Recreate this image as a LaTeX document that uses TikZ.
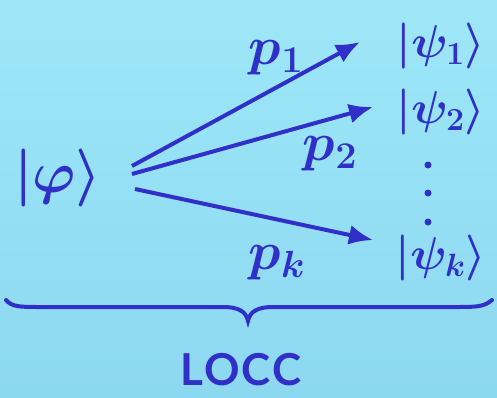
\documentclass[tikz,border=0pt]{standalone}
\usepackage{fix-cm}
\usepackage{fontspec}
\setsansfont{Lato}
\usetikzlibrary{arrows.meta}
\definecolor{bgtop}{HTML}{9DE7F8}
\definecolor{bgbot}{HTML}{8DD8F1}
\definecolor{ink}{HTML}{3030C8}
\begin{document}
\begin{tikzpicture}[x=1pt,y=-1pt,
  lbl/.style={text=ink, inner sep=0pt, font=\fontsize{58}{66}\selectfont\boldmath},
  slbl/.style={text=ink, inner sep=0pt, font=\fontsize{46}{54}\selectfont\boldmath},
  plbl/.style={text=ink, inner sep=0pt, font=\fontsize{54}{60}\selectfont\boldmath},
  arr/.style={draw=ink, line width=4pt, -{Latex[length=24pt,width=20pt]}},
  dot/.style={circle, fill=ink, inner sep=0pt, minimum size=7pt}]
\shade[top color=bgtop, bottom color=bgbot] (0,0) rectangle (497,398);
\useasboundingbox (0,0) rectangle (497,398);
\node[lbl] (phi) at (58,178) {$|\varphi\rangle$};
\node[slbl] (psi1) at (441,46) {$|\psi_1\rangle$};
\node[slbl] (psi2) at (441,112) {$|\psi_2\rangle$};
\node[slbl] (psik) at (441,258) {$|\psi_k\rangle$};
\node[plbl] (p1) at (276,58) {$p_1$};
\node[plbl] (p2) at (330,154) {$p_2$};
\node[plbl] (pk) at (277,263) {$p_k$};
\node[dot] (d1) at (428,165) {};
\node[dot] (d2) at (428,193) {};
\node[dot] (d3) at (428,222) {};
\coordinate (s1) at (132,166);
\coordinate (s2) at (132,174);
\coordinate (sk) at (135,189);
\coordinate (t1) at (360,42);
\coordinate (t2) at (373,107);
\coordinate (tk) at (373,240);
\draw[arr] (s1) -- (t1);
\draw[arr] (s2) -- (t2);
\draw[arr] (sk) -- (tk);
\draw[ink, line width=4pt, line cap=round]
  (6,300) .. controls (12,307) and (20,307) .. (40,307)
  -- (222,307) .. controls (240,307) and (246,312) .. (248,321)
  .. controls (250,312) and (256,307) .. (274,307)
  -- (456,307) .. controls (476,307) and (484,307) .. (492,300);
\node[text=ink, inner sep=0pt, font=\sffamily\bfseries\fontsize{44}{50}\selectfont\addfontfeatures{LetterSpace=5}] (locc) at (241,370) {LOCC};
\end{tikzpicture}
\end{document}
